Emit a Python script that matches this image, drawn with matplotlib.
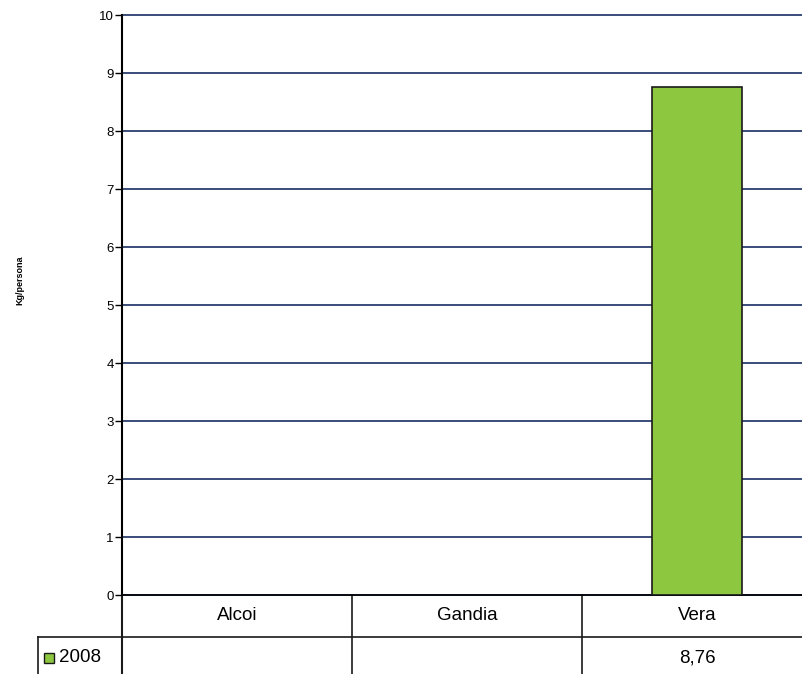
import matplotlib.pyplot as plt
import matplotlib.transforms as mtransforms
from matplotlib.patches import Rectangle

plt.rcParams['font.family'] = ['Liberation Sans', 'DejaVu Sans']

categories = ["Alcoi", "Gandia", "Vera"]
values_2008 = [None, None, 8.76]
series_name = "2008"
y_label = "Kg/persona"

fig = plt.figure(figsize=(8.03, 6.74), dpi=100)
W, H = 803, 674
ax = fig.add_axes([122 / W, (H - 595) / H, (812 - 122) / W, 580 / H])

xs = [i for i, v in enumerate(values_2008) if v is not None]
vs = [v for v in values_2008 if v is not None]
ax.bar(xs, vs, width=0.39, color='#8dc63f', edgecolor='#1a1a1a', linewidth=1.2, zorder=3)

ax.set_xlim(-0.5, 2.5)
ax.set_ylim(0, 10)
ax.set_yticks(range(0, 11))
ax.tick_params(axis='y', length=5, width=1, labelsize=9.5, pad=1)
ax.set_xticks([])
ax.grid(axis='y', color='#2c3e6e', linewidth=1.3, zorder=0)
for gl in ax.get_ygridlines():
    gl.set_clip_on(False)
for s in ['top', 'right']:
    ax.spines[s].set_visible(False)
ax.spines['left'].set_linewidth(1.5)
ax.spines['left'].set_zorder(4)
ax.spines['bottom'].set_linewidth(1.2)

fig.text(20 / W, 1 - 280 / H, y_label, rotation=90, fontsize=6.5, fontweight='bold',
         ha='center', va='center')

# data table below the axis
tr = mtransforms.blended_transform_factory(ax.transData, ax.transAxes)
row_h = 42 / 580
col_w = (812 - 122) / 3
lk = dict(color='#1a1a1a', linewidth=1.2, clip_on=False, transform=tr)
ax.plot([-0.5, 2.5], [-row_h, -row_h], **lk)
ax.plot([-0.5 - 84 / col_w, -0.5], [-row_h, -row_h], **lk)
ax.plot([-0.5, -0.5], [0, -0.3], color='#1a1a1a', linewidth=1.5, clip_on=False, transform=tr)
ax.plot([-0.5 - 84 / col_w] * 2, [-row_h, -0.3], **lk)
for b in [0.5, 1.5]:
    ax.plot([b, b], [0, -0.3], **lk)

for i, c in enumerate(categories):
    ax.text(i, -row_h / 2, c, ha='center', va='center', fontsize=13.5, transform=tr)
    if values_2008[i] is not None:
        ax.text(i, -row_h * 1.5, f"{values_2008[i]:.2f}".replace('.', ','),
                ha='center', va='center', fontsize=13.5, transform=tr)

ax.add_patch(Rectangle((-0.5 - 78 / col_w, -row_h * 1.5 - 0.008), 10 / col_w, 0.016,
                       facecolor='#8dc63f', edgecolor='#1a1a1a', linewidth=1,
                       transform=tr, clip_on=False))
ax.text(-0.5 - 63 / col_w, -row_h * 1.5, series_name, ha='left', va='center',
        fontsize=13.5, transform=tr)

fig.savefig('out.png', dpi=100)
